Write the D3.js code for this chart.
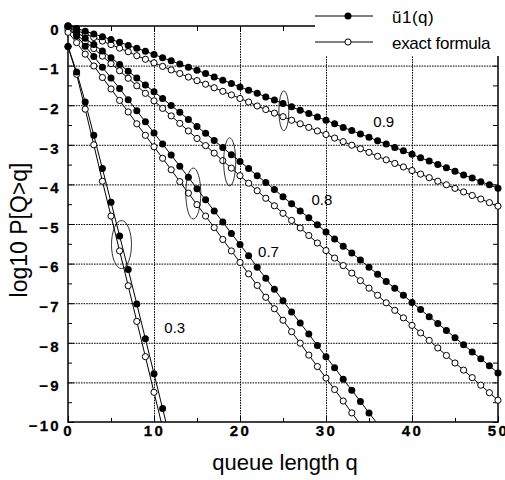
<!DOCTYPE html>
<html>
<head>
<meta charset="utf-8">
<script src="https://cdn.jsdelivr.net/npm/d3@7"></script>
<style>
body { margin: 0; background: #fff; }
text { font-family: "Liberation Sans", Arial, Helvetica, sans-serif; }
.tick text { font-weight: bold; font-size: 15px; letter-spacing: 2.3px; fill: #000; stroke: #000; stroke-width: 0.3px; }
</style>
</head>
<body>
<div id="viz_area"></div>
<script>
// log10 P[Q>q] for q = 0, 1, 2, ...
var approx09 = [0, -0.06, -0.13, -0.20, -0.27, -0.34, -0.41, -0.49, -0.56, -0.64,
	-0.72, -0.80, -0.88, -0.96, -1.04, -1.12, -1.20, -1.29, -1.37, -1.45,
	-1.54, -1.62, -1.70, -1.79, -1.87, -1.96, -2.04, -2.13, -2.21, -2.30,
	-2.38, -2.47, -2.56, -2.64, -2.73, -2.81, -2.90, -2.98, -3.07, -3.15,
	-3.24, -3.33, -3.41, -3.50, -3.58, -3.67, -3.76, -3.84, -3.93, -4.01, -4.10];
var exact09 = [-0.05, -0.11, -0.20, -0.29, -0.38, -0.47, -0.56, -0.65, -0.75, -0.84,
	-0.93, -1.02, -1.11, -1.20, -1.29, -1.38, -1.47, -1.56, -1.65, -1.74,
	-1.83, -1.92, -2.02, -2.11, -2.20, -2.29, -2.38, -2.47, -2.56, -2.65,
	-2.74, -2.83, -2.92, -3.01, -3.10, -3.19, -3.29, -3.38, -3.47, -3.56,
	-3.65, -3.74, -3.83, -3.92, -4.01, -4.10, -4.19, -4.28, -4.37, -4.46, -4.55];
var approx08 = [0, -0.15, -0.31, -0.47, -0.63, -0.80, -0.97, -1.14, -1.31, -1.49,
	-1.66, -1.83, -2.01, -2.18, -2.36, -2.54, -2.71, -2.89, -3.07, -3.25,
	-3.42, -3.60, -3.78, -3.95, -4.13, -4.31, -4.49, -4.67, -4.84, -5.02,
	-5.20, -5.38, -5.56, -5.73, -5.91, -6.09, -6.27, -6.45, -6.62, -6.80,
	-6.98, -7.16, -7.34, -7.51, -7.69, -7.87, -8.05, -8.23, -8.40, -8.58, -8.76];
var exact08 = [-0.10, -0.22, -0.40, -0.57, -0.76, -0.95, -1.13, -1.32, -1.51, -1.70,
	-1.89, -2.08, -2.27, -2.46, -2.65, -2.84, -3.02, -3.21, -3.40, -3.59,
	-3.78, -3.97, -4.16, -4.35, -4.54, -4.73, -4.91, -5.10, -5.29, -5.48,
	-5.67, -5.86, -6.05, -6.24, -6.43, -6.62, -6.80, -6.99, -7.18, -7.37,
	-7.56, -7.75, -7.94, -8.13, -8.32, -8.51, -8.69, -8.88, -9.07, -9.26, -9.45];
var approx07 = [0, -0.25, -0.51, -0.77, -1.04, -1.31, -1.58, -1.86, -2.14, -2.42,
	-2.70, -2.98, -3.26, -3.54, -3.82, -4.11, -4.39, -4.67, -4.95, -5.24,
	-5.52, -5.80, -6.09, -6.37, -6.65, -6.94, -7.22, -7.50, -7.78, -8.07,
	-8.35, -8.63, -8.92, -9.20, -9.48, -9.77, -10.05];
var exact07 = [-0.16, -0.42, -0.71, -1.01, -1.30, -1.59, -1.88, -2.17, -2.47, -2.76,
	-3.05, -3.34, -3.63, -3.93, -4.22, -4.51, -4.80, -5.09, -5.39, -5.68,
	-5.97, -6.26, -6.55, -6.85, -7.14, -7.43, -7.72, -8.01, -8.31, -8.60,
	-8.89, -9.18, -9.47, -9.77, -10.06];
var approx03 = [-0.52, -1.16, -1.92, -2.76, -3.60, -4.45, -5.30, -6.15, -7.02, -7.90, -8.78, -9.66, -10.54];
var exact03 = [-0.52, -1.22, -2.10, -3.00, -3.92, -4.80, -5.68, -6.56, -7.46, -8.35, -9.25, -10.15];

var loads = ["0.9", "0.8", "0.7", "0.3"];
var approxSeries = [approx09, approx08, approx07, approx03];
var exactSeries = [exact09, exact08, exact07, exact03];

var xTicks = [0, 10, 20, 30, 40, 50];
var xMinor = [5, 15, 25, 35, 45];
var yTicks = [0, -1, -2, -3, -4, -5, -6, -7, -8, -9, -10];
var yMinor = [-0.5, -1.5, -2.5, -3.5, -4.5, -5.5, -6.5, -7.5, -8.5, -9.5];
var legendNames = ["\u0169" + "1(q)", "exact formula"];

function draw() {
	var w = 505, h = 480;
	var left = 68, right = 498, top = 26, bottom = 422;

	var x = d3.scaleLinear().domain([0, 50]).range([left, right]);
	var y = d3.scaleLinear().domain([0, -10]).range([top, bottom]);

	var svg = d3.select("#viz_area").append("svg")
		.attr("width", w).attr("height", h)
		.style("background", "#fff");

	svg.append("clipPath").attr("id", "plotclip")
		.append("rect")
		.attr("x", left).attr("y", top)
		.attr("width", right - left).attr("height", bottom - top);

	// dotted grid
	svg.append("g")
		.attr("transform", "translate(0," + bottom + ")")
		.call(d3.axisBottom(x).tickValues([10, 20, 30, 40]).tickSize(-(bottom - top)).tickFormat(""))
		.call(function(g) { g.select(".domain").remove(); })
		.selectAll("line").attr("stroke", "#000").attr("stroke-dasharray", "1.6,1");
	svg.append("g")
		.attr("transform", "translate(" + left + ",0)")
		.call(d3.axisLeft(y).tickValues(d3.range(-1, -10, -1)).tickSize(-(right - left)).tickFormat(""))
		.call(function(g) { g.select(".domain").remove(); })
		.selectAll("line").attr("stroke", "#000").attr("stroke-dasharray", "1.6,1");

	// axes with inward ticks
	var xAxis = svg.append("g")
		.attr("transform", "translate(0," + bottom + ")")
		.call(d3.axisBottom(x).tickValues(xTicks).tickSize(-6).tickPadding(3).tickFormat(d3.format("d")));
	xAxis.select(".domain").remove();
	svg.append("g")
		.attr("transform", "translate(0," + bottom + ")")
		.call(d3.axisBottom(x).tickValues(xMinor).tickSize(-4).tickFormat(""))
		.select(".domain").remove();
	svg.append("g")
		.attr("transform", "translate(0," + top + ")")
		.call(d3.axisTop(x).tickValues(xTicks.concat(xMinor)).tickSize(-5).tickFormat(""))
		.select(".domain").remove();

	var yAxis = svg.append("g")
		.attr("transform", "translate(" + left + ",0)")
		.call(d3.axisLeft(y).tickValues(yTicks).tickSize(-6).tickPadding(7).tickFormat(d3.format("d")));
	yAxis.select(".domain").remove();
	yAxis.selectAll("text").attr("dy", "0.55em");
	svg.append("g")
		.attr("transform", "translate(" + left + ",0)")
		.call(d3.axisLeft(y).tickValues(yMinor).tickSize(-4).tickFormat(""))
		.select(".domain").remove();
	svg.append("g")
		.attr("transform", "translate(" + right + ",0)")
		.call(d3.axisRight(y).tickValues(yTicks.concat(yMinor)).tickSize(-5).tickFormat(""))
		.select(".domain").remove();

	svg.selectAll(".tick line").attr("stroke-width", 1);

	// frame
	svg.append("rect")
		.attr("x", left).attr("y", top)
		.attr("width", right - left).attr("height", bottom - top)
		.attr("fill", "none").attr("stroke", "#000").attr("stroke-width", 1.5);

	// curves
	var line = d3.line()
		.x(function(d, i) { return x(i); })
		.y(function(d) { return y(d); });

	var curves = svg.append("g").attr("clip-path", "url(#plotclip)");
	approxSeries.concat(exactSeries).forEach(function(s) {
		curves.append("path")
			.attr("d", line(s))
			.attr("fill", "none")
			.attr("stroke", "#000")
			.attr("stroke-width", 1);
	});

	function visible(s) {
		return s.map(function(v, i) { return { q: i, v: v }; })
			.filter(function(d) { return d.v >= -10; });
	}

	exactSeries.forEach(function(s) {
		svg.append("g").selectAll("circle")
			.data(visible(s))
			.enter()
			.append("circle")
			.attr("cx", function(d) { return x(d.q); })
			.attr("cy", function(d) { return y(d.v); })
			.attr("r", 3.1)
			.attr("fill", "#fff")
			.attr("stroke", "#000")
			.attr("stroke-width", 1);
	});
	approxSeries.forEach(function(s) {
		svg.append("g").selectAll("circle")
			.data(visible(s))
			.enter()
			.append("circle")
			.attr("cx", function(d) { return x(d.q); })
			.attr("cy", function(d) { return y(d.v); })
			.attr("r", 3.5)
			.attr("fill", "#000");
	});

	// ellipses marking each pair, and the load labels
	var ringAt = [[25.1, -2.14, 5, 20], [18.8, -3.43, 6, 24], [14.57, -4.23, 7.5, 25.5], [6.22, -5.52, 10, 24]];
	var labelAt = [[35.5, -2.55], [28.3, -4.52], [22.1, -5.83], [11.2, -7.75]];
	loads.forEach(function(name, i) {
		svg.append("ellipse")
			.attr("cx", x(ringAt[i][0])).attr("cy", y(ringAt[i][1]))
			.attr("rx", ringAt[i][2]).attr("ry", ringAt[i][3])
			.attr("fill", "none").attr("stroke", "#000").attr("stroke-width", 0.8);
		svg.append("text")
			.attr("x", x(labelAt[i][0])).attr("y", y(labelAt[i][1]))
			.attr("font-size", 15)
			.text(name);
	});

	// legend
	var legend = svg.append("g");
	legend.append("rect")
		.attr("x", 315).attr("y", 0).attr("width", 190).attr("height", 56)
		.attr("fill", "#fff");
	legendNames.forEach(function(name, i) {
		var ly = 16 + i * 26;
		legend.append("line")
			.attr("x1", 315).attr("x2", 373).attr("y1", ly).attr("y2", ly)
			.attr("stroke", "#000").attr("stroke-width", 1);
		legend.append("circle")
			.attr("cx", 348).attr("cy", ly)
			.attr("r", i === 0 ? 3.5 : 3.1)
			.attr("fill", i === 0 ? "#000" : "#fff")
			.attr("stroke", "#000").attr("stroke-width", i === 0 ? 0 : 1);
		legend.append("text")
			.attr("x", 392).attr("y", ly + 7)
			.attr("font-size", 17)
			.attr("letter-spacing", i === 0 ? 0.5 : -0.3)
			.text(name);
	});

	// axis titles
	svg.append("text")
		.attr("x", 285).attr("y", 470)
		.attr("text-anchor", "middle")
		.attr("font-size", 22)
		.text("queue length q");
	svg.append("text")
		.attr("transform", "translate(27,230) rotate(-90)")
		.attr("text-anchor", "middle")
		.attr("font-size", 23)
		.text("log10 P[Q>q]");
}

window.onload = draw;
</script>
</body>
</html>
